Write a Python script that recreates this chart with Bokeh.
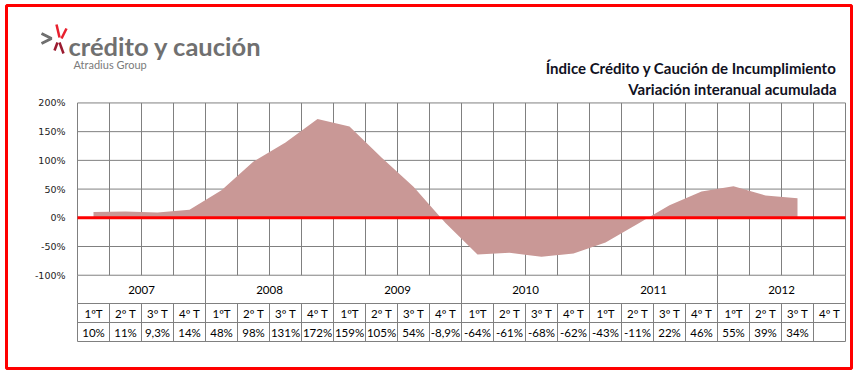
import math
from bokeh.plotting import figure
from bokeh.models import ColumnDataSource, Range1d
from bokeh.embed import file_html
from bokeh.resources import INLINE
from bokeh.core.properties import value

# ---------------- data ----------------
years = ["2007", "2008", "2009", "2010", "2011", "2012"]
quarters = ["1ºT", "2º T", "3º T", "4º T"]
values = [10, 11, 9.3, 14, 48, 98, 131, 172, 159, 105, 54, -8.9,
          -64, -61, -68, -62, -43, -11, 22, 46, 55, 39, 34, None]
y_ticks = [-100, -50, 0, 50, 100, 150, 200]
title_lines = ["Índice Crédito y Caución de Incumplimiento",
               "Variación interanual acumulada"]
brand = "crédito y caución"
brand_sub = "Atradius Group"

# ---------------- layout helpers (canvas px -> data) ----------------
PX = (845 - 77) / 24.0      # px per quarter
PY = 57.43 / 100.0           # px per percent
ZERO = 217.3


def X(px):
    return (px - 77) / PX


def Y(py):
    return (ZERO - py) / PY


W, H = 853, 370
ML, MT, MR, MB = 6, 5, 2, 2
p = figure(width=W, height=H, output_backend="svg", toolbar_location=None,
           x_range=Range1d(X(ML), X(W - MR)), y_range=Range1d(Y(H - MB), Y(MT)),
           x_axis_type=None, y_axis_type=None)
p.title = None
p.min_border_left = ML
p.min_border_top = MT
p.min_border_right = MR
p.min_border_bottom = MB
p.outline_line_color = "#FF0000"
p.outline_line_width = 3
p.background_fill_color = "white"
p.border_fill_color = "white"

n = len(values)
GRID = "#808080"

# plot-area grid
p.segment(x0=[0] * len(y_ticks), x1=[n] * len(y_ticks), y0=y_ticks, y1=y_ticks,
          line_color=GRID, line_width=1)
p.segment(x0=list(range(n + 1)), x1=list(range(n + 1)),
          y0=[min(y_ticks)] * (n + 1), y1=[max(y_ticks)] * (n + 1),
          line_color=GRID, line_width=1)

# table lines
row_year_bottom = Y(303)
row_q_bottom = Y(322)
row_v_bottom = Y(341)
yb = list(range(0, n + 1, 4))
p.segment(x0=yb, x1=yb, y0=[min(y_ticks)] * len(yb), y1=[row_year_bottom] * len(yb),
          line_color=GRID, line_width=1)
p.segment(x0=list(range(n + 1)), x1=list(range(n + 1)),
          y0=[row_year_bottom] * (n + 1), y1=[row_v_bottom] * (n + 1),
          line_color=GRID, line_width=1)
hl = [row_year_bottom, row_q_bottom, row_v_bottom]
p.segment(x0=[0] * 3, x1=[n] * 3, y0=hl, y1=hl, line_color=GRID, line_width=1)

# area
xs = [i + 0.5 for i, v in enumerate(values) if v is not None]
ys = [v for v in values if v is not None]
p.varea(x=xs, y1=[0] * len(xs), y2=ys, fill_color="#C99896")

# zero line
p.segment(x0=[0], x1=[n], y0=[0], y1=[0], line_color="#FF0000", line_width=3)

# y tick labels
p.text(x=[X(65)] * len(y_ticks), y=y_ticks, text=[f"{t}%" for t in y_ticks],
       text_font=value("DejaVu Sans"), text_font_size="9.5px",
       text_align="right", text_baseline="middle", text_color="#222222")

# table text
FONT = value("Lato")
p.text(x=[4 * k + 2 for k in range(len(years))], y=[Y(289.5)] * len(years), text=years,
       text_font=FONT, text_font_size="11.5px", text_align="center",
       text_baseline="middle", text_color="#000000")
qlabels = [quarters[i % 4] for i in range(n)]
p.text(x=[i + 0.5 for i in range(n)], y=[Y(313)] * n, text=qlabels,
       text_font=FONT, text_font_size="11.5px", text_align="center",
       text_baseline="middle", text_color="#000000")


def fmt(v):
    if v is None:
        return ""
    return (f"{v:g}%").replace(".", ",")


p.text(x=[i + 0.5 for i in range(n)], y=[Y(332)] * n, text=[fmt(v) for v in values],
       text_font=FONT, text_font_size="11.5px", text_align="center",
       text_baseline="middle", text_color="#000000")

# title
p.text(x=[X(836), X(836)], y=[Y(67.5), Y(88)], text=title_lines,
       text_font=FONT, text_font_size="15px", text_font_style="bold",
       text_align="right", text_baseline="alphabetic", text_color="#111122")

# logo
p.text(x=[X(68)], y=[Y(45.5)], text=[brand], text_font=FONT, text_font_size="25.5px",
       text_font_style="bold", text_align="left", text_baseline="alphabetic",
       text_color="#707070")
p.text(x=[X(73)], y=[Y(63.5)], text=[brand_sub], text_font=FONT, text_font_size="11px",
       text_align="left", text_baseline="alphabetic", text_color="#7a7a7a")
p.line(x=[X(41), X(51), X(41)], y=[Y(33), Y(38), Y(43)], line_color="#707070",
       line_width=3)
p.segment(x0=[X(56), X(66)], x1=[X(59), X(61)], y0=[Y(24), Y(28)], y1=[Y(37), Y(38)],
          line_color="#E8202E", line_width=2.5)
p.segment(x0=[X(59), X(57)], x1=[X(63), X(54)], y0=[Y(42), Y(42)], y1=[Y(53), Y(50)],
          line_color="#9B1B30", line_width=2.5)

open("out.html", "w").write(file_html(p, INLINE))
